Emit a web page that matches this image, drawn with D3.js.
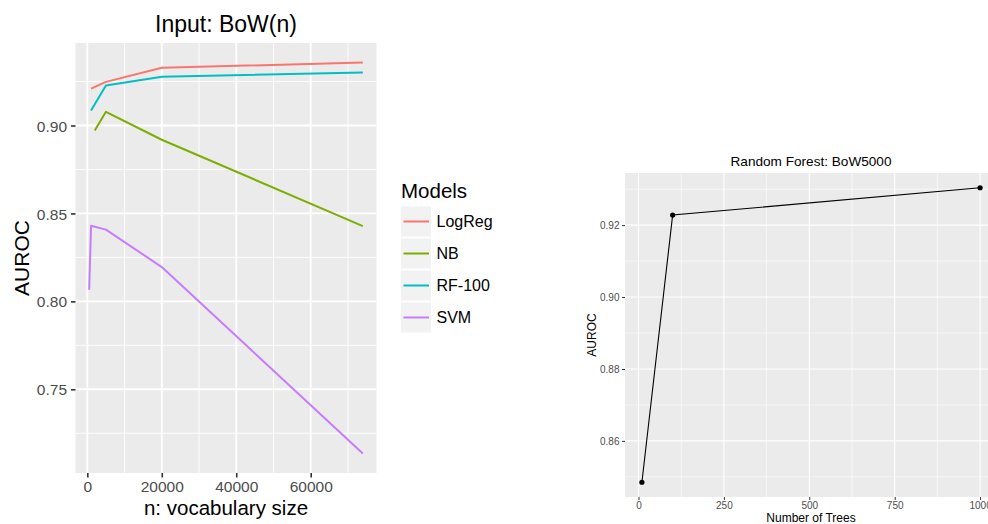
<!DOCTYPE html>
<html><head><meta charset="utf-8">
<script src="https://cdn.jsdelivr.net/npm/d3@7"></script>
<style>body{margin:0;background:#fff;}svg{display:block;font-family:"Liberation Sans",Arial,sans-serif;}</style>
</head><body>
<script>
// ---- Left panel data ----
const vocabSizes = [500, 1000, 2000, 5000, 20000, 74000];
const models = ["LogReg", "NB", "RF-100", "SVM"];
const modelColors = ["#F8766D", "#7CAE00", "#00BFC4", "#C77CFF"];
const logregAUROC = [null, 0.9210, null, 0.9248, 0.9328, 0.9358];
const nbAUROC     = [null, null, 0.8972, 0.9078, 0.8919, 0.8428];
const rfAUROC     = [null, 0.9085, null, 0.9227, 0.9277, 0.9301];
const svmAUROC    = [0.8066, 0.8430, null, 0.8408, 0.8195, 0.7135];
const leftYTicks = [0.75, 0.80, 0.85, 0.90];
const leftXTicks = [0, 20000, 40000, 60000];

// ---- Right panel data ----
const numTrees = [10, 100, 1000];
const rfTreesAUROC = [0.8485, 0.9228, 0.9304];
const rightYTicks = [0.86, 0.88, 0.90, 0.92];
const rightXTicks = [0, 250, 500, 750, 1000];

const W = 988, H = 524;
const svg = d3.select("body").append("svg").attr("width", W).attr("height", H);

function expand(ext) { const w = ext[1] - ext[0]; return [ext[0] - 0.05 * w, ext[1] + 0.05 * w]; }

// ================= LEFT PANEL =================
const seriesVals = [logregAUROC, nbAUROC, rfAUROC, svmAUROC];
const series = models.map((m, i) => ({
  name: m, color: modelColors[i],
  pts: vocabSizes.map((x, j) => ({x, y: seriesVals[i][j]})).filter(d => d.y != null)
}));
const allY = seriesVals.flat().filter(v => v != null);
const lx = d3.scaleLinear().domain(expand(d3.extent(vocabSizes))).range([75.5, 376.5]);
const ly = d3.scaleLinear().domain(expand(d3.extent(allY))).range([473, 43]);

const L = svg.append("g");
L.append("rect").attr("x", 75.5).attr("y", 43).attr("width", 301).attr("height", 430).attr("fill", "#EBEBEB");
// minor grid
const lxMinor = [10000, 30000, 50000, 70000];
const lyMinor = [0.725, 0.775, 0.825, 0.875, 0.925];
L.selectAll(".lxm").data(lxMinor).enter().append("line")
  .attr("x1", d => lx(d)).attr("x2", d => lx(d)).attr("y1", 43).attr("y2", 473)
  .attr("stroke", "#fff").attr("stroke-width", 0.9);
L.selectAll(".lym").data(lyMinor).enter().append("line")
  .attr("y1", d => ly(d)).attr("y2", d => ly(d)).attr("x1", 75.5).attr("x2", 376.5)
  .attr("stroke", "#fff").attr("stroke-width", 0.9);
L.selectAll(".lxM").data(leftXTicks).enter().append("line")
  .attr("x1", d => lx(d)).attr("x2", d => lx(d)).attr("y1", 43).attr("y2", 473)
  .attr("stroke", "#fff").attr("stroke-width", 1.8);
L.selectAll(".lyM").data(leftYTicks).enter().append("line")
  .attr("y1", d => ly(d)).attr("y2", d => ly(d)).attr("x1", 75.5).attr("x2", 376.5)
  .attr("stroke", "#fff").attr("stroke-width", 1.8);

// axes
const lxAxis = d3.axisBottom(lx).tickValues(leftXTicks).tickFormat(d3.format("d")).tickSize(4.5).tickPadding(3);
const lyAxis = d3.axisLeft(ly).tickValues(leftYTicks).tickFormat(d3.format(".2f")).tickSize(4.5).tickPadding(4);
const gx = L.append("g").attr("transform", "translate(0,473)").call(lxAxis);
const gy = L.append("g").attr("transform", "translate(75.5,0)").call(lyAxis);
[gx, gy].forEach(g => {
  g.select(".domain").remove();
  g.selectAll(".tick line").attr("stroke", "#333").attr("stroke-width", 1.6);
  g.selectAll(".tick text").attr("fill", "#4D4D4D").style("font-size", "15.5px").style("font-family", "Liberation Sans, Arial, sans-serif");
});
gy.selectAll(".tick text").attr("dy", "0.36em");

// lines
const lline = d3.line().x(d => lx(d.x)).y(d => ly(d.y));
L.selectAll(".series").data(series).enter().append("path")
  .attr("d", d => lline(d.pts)).attr("fill", "none")
  .attr("stroke", d => d.color).attr("stroke-width", 2).attr("stroke-linejoin", "round");

// titles
L.append("text").attr("x", 226).attr("y", 31.5).attr("text-anchor", "middle")
  .style("font-size", "23px").attr("fill", "#000").text("Input: BoW(n)");
L.append("text").attr("x", 226).attr("y", 515).attr("text-anchor", "middle")
  .style("font-size", "20.5px").attr("fill", "#000").text("n: vocabulary size");
L.append("text").attr("transform", "translate(29,258) rotate(-90)").attr("text-anchor", "middle")
  .style("font-size", "21px").attr("fill", "#000").text("AUROC");

// legend
const leg = svg.append("g");
leg.append("text").attr("x", 401).attr("y", 197.5).style("font-size", "20.5px").attr("fill", "#000").text("Models");
const keyY = [206.5, 238.5, 270.5, 302.5];
models.forEach((m, i) => {
  leg.append("rect").attr("x", 401).attr("y", keyY[i]).attr("width", 30).attr("height", 30).attr("fill", "#F2F2F2");
  leg.append("line").attr("x1", 403.5).attr("x2", 429).attr("y1", keyY[i] + 15).attr("y2", keyY[i] + 15)
    .attr("stroke", modelColors[i]).attr("stroke-width", 2);
  leg.append("text").attr("x", 436.5).attr("y", keyY[i] + 15).attr("dy", "0.36em")
    .style("font-size", "16px").attr("fill", "#000").text(m);
});

// ================= RIGHT PANEL =================
const rx = d3.scaleLinear().domain(expand(d3.extent(numTrees))).range([625, 997]);
const ry = d3.scaleLinear().domain(expand(d3.extent(rfTreesAUROC))).range([497, 173]);
const R = svg.append("g");
R.append("rect").attr("x", 625).attr("y", 173).attr("width", 372).attr("height", 324).attr("fill", "#EBEBEB");
const rxMinor = [125, 375, 625, 875];
const ryMinor = [0.85, 0.87, 0.89, 0.91, 0.93];
R.selectAll(".rxm").data(rxMinor).enter().append("line")
  .attr("x1", d => rx(d)).attr("x2", d => rx(d)).attr("y1", 173).attr("y2", 497)
  .attr("stroke", "#fff").attr("stroke-width", 0.6);
R.selectAll(".rym").data(ryMinor).enter().append("line")
  .attr("y1", d => ry(d)).attr("y2", d => ry(d)).attr("x1", 625).attr("x2", 997)
  .attr("stroke", "#fff").attr("stroke-width", 0.6);
R.selectAll(".rxM").data(rightXTicks).enter().append("line")
  .attr("x1", d => rx(d)).attr("x2", d => rx(d)).attr("y1", 173).attr("y2", 497)
  .attr("stroke", "#fff").attr("stroke-width", 1.1);
R.selectAll(".ryM").data(rightYTicks).enter().append("line")
  .attr("y1", d => ry(d)).attr("y2", d => ry(d)).attr("x1", 625).attr("x2", 997)
  .attr("stroke", "#fff").attr("stroke-width", 1.1);

const rxAxis = d3.axisBottom(rx).tickValues(rightXTicks).tickFormat(d3.format("d")).tickSize(3).tickPadding(2);
const ryAxis = d3.axisLeft(ry).tickValues(rightYTicks).tickFormat(d3.format(".2f")).tickSize(3).tickPadding(2.5);
const rgx = R.append("g").attr("transform", "translate(0,497)").call(rxAxis);
const rgy = R.append("g").attr("transform", "translate(625,0)").call(ryAxis);
[rgx, rgy].forEach(g => {
  g.select(".domain").remove();
  g.selectAll(".tick line").attr("stroke", "#333").attr("stroke-width", 1);
  g.selectAll(".tick text").attr("fill", "#4D4D4D").style("font-size", "10px").style("font-family", "Liberation Sans, Arial, sans-serif");
});
rgy.selectAll(".tick text").attr("dy", "0.36em");

const rPts = numTrees.map((x, i) => ({x, y: rfTreesAUROC[i]}));
R.append("path").attr("d", d3.line().x(d => rx(d.x)).y(d => ry(d.y))(rPts))
  .attr("fill", "none").attr("stroke", "#000").attr("stroke-width", 1.1);
R.selectAll(".pt").data(rPts).enter().append("circle")
  .attr("cx", d => rx(d.x)).attr("cy", d => ry(d.y)).attr("r", 2.6).attr("fill", "#000");

R.append("text").attr("x", 811).attr("y", 166).attr("text-anchor", "middle")
  .style("font-size", "13.6px").attr("fill", "#000").text("Random Forest: BoW5000");
R.append("text").attr("x", 811).attr("y", 522).attr("text-anchor", "middle")
  .style("font-size", "12px").attr("fill", "#000").text("Number of Trees");
R.append("text").attr("transform", "translate(596,335) rotate(-90)").attr("text-anchor", "middle")
  .style("font-size", "12px").attr("fill", "#000").text("AUROC");
</script>
</body></html>
